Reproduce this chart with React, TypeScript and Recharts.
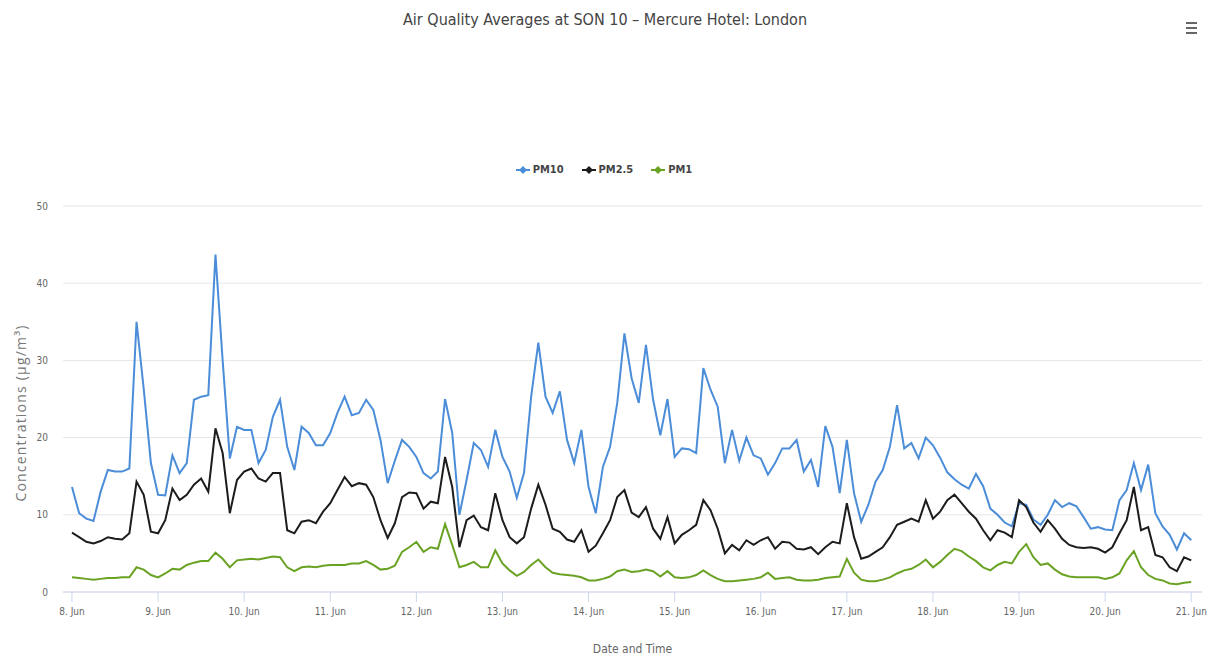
import React from "react";
import { LineChart, Line, XAxis, YAxis, CartesianGrid } from "recharts";

// readings every 2 hours from 8 Jun 00:00 to 21 Jun 00:00
const STEP_HOURS = 2;

const dayTicks = [0, 24, 48, 72, 96, 120, 144, 168, 192, 216, 240, 264, 288, 312];
const dayLabels = [
  "8. Jun", "9. Jun", "10. Jun", "11. Jun", "12. Jun", "13. Jun", "14. Jun",
  "15. Jun", "16. Jun", "17. Jun", "18. Jun", "19. Jun", "20. Jun", "21. Jun"
];
const yTicks = [0, 10, 20, 30, 40, 50];

const pm10 = [
  13.6, 10.2, 9.5, 9.2, 13.0, 15.8, 15.6, 15.6, 16.0, 35.0, 26.3, 16.7, 12.6, 12.5, 17.7, 15.4, 16.7, 24.9, 25.3, 25.5,
  43.7, 30.0, 17.3, 21.4, 21.0, 21.0, 16.7, 18.4, 22.7, 24.9, 18.8, 15.8, 21.4, 20.6, 19.0, 19.0, 20.6, 23.2, 25.3,
  22.9, 23.2, 24.9, 23.6, 19.7, 14.1, 17.0, 19.7, 18.8, 17.5, 15.4, 14.7, 15.6, 25.0, 20.6, 10.0, 14.5, 19.3, 18.4, 16.2,
  21.0, 17.5, 15.6, 12.2, 15.4, 25.3, 32.3, 25.3, 23.2, 26.0, 19.7, 16.7, 21.0, 13.6, 10.2, 16.2, 18.8, 24.5, 33.5,
  27.7, 24.5, 32.0, 24.9, 20.3, 25.0, 17.5, 18.6, 18.5, 18.0, 29.0, 26.2, 24.0, 16.7, 21.0, 17.0, 20.0, 17.7, 17.3, 15.2,
  16.7, 18.6, 18.6, 19.7, 15.6, 17.1, 13.6, 21.5, 18.8, 12.8, 19.7, 12.8, 9.1, 11.3, 14.3, 15.8, 18.8, 24.2, 18.6,
  19.3, 17.3, 20.0, 19.0, 17.4, 15.5, 14.6, 13.9, 13.4, 15.3, 13.7, 10.8, 10.0, 9.0, 8.5, 11.5, 11.3, 9.4, 8.7, 10.0,
  11.9, 11.0, 11.5, 11.1, 9.7, 8.2, 8.4, 8.1, 8.0, 11.9, 13.2, 16.7, 13.2, 16.5, 10.2, 8.5, 7.4, 5.5, 7.6, 6.7
];

const pm25 = [
  7.7, 7.1, 6.5, 6.3, 6.6, 7.1, 6.9, 6.8, 7.6, 14.3, 12.6, 7.8, 7.6, 9.3, 13.4, 11.9, 12.6, 13.9, 14.7, 13.0,
  21.2, 18.0, 10.2, 14.5, 15.6, 16.0, 14.7, 14.3, 15.4, 15.4, 8.0, 7.6, 9.1, 9.3, 8.9, 10.4, 11.5, 13.2, 14.9,
  13.7, 14.1, 13.9, 12.3, 9.3, 7.0, 8.9, 12.3, 12.9, 12.8, 10.8, 11.7, 11.5, 17.5, 13.6, 5.8, 9.3, 9.9, 8.4, 8.0,
  12.8, 9.3, 7.1, 6.3, 7.1, 10.8, 13.9, 11.3, 8.2, 7.8, 6.8, 6.5, 8.0, 5.2, 6.0, 7.6, 9.3, 12.3, 13.2,
  10.3, 9.7, 11.0, 8.2, 6.9, 9.7, 6.3, 7.4, 8.0, 8.7, 11.9, 10.6, 8.2, 5.0, 6.1, 5.4, 6.7, 6.1, 6.7, 7.1,
  5.6, 6.5, 6.4, 5.6, 5.5, 5.8, 4.9, 5.8, 6.5, 6.3, 11.5, 7.1, 4.3, 4.6, 5.2, 5.8, 7.1, 8.7, 9.1,
  9.5, 9.1, 11.9, 9.5, 10.4, 11.9, 12.6, 11.5, 10.4, 9.5, 8.0, 6.7, 8.0, 7.7, 7.1, 11.9, 11.0, 9.0, 7.8, 9.3,
  8.2, 6.9, 6.1, 5.8, 5.7, 5.8, 5.6, 5.1, 5.8, 7.6, 9.3, 13.6, 8.0, 8.4, 4.8, 4.5, 3.2, 2.7, 4.5, 4.1
];

const pm1 = [
  1.9, 1.8, 1.7, 1.6, 1.7, 1.8, 1.8, 1.9, 1.9, 3.2, 2.9, 2.2, 1.9, 2.4, 3.0, 2.9, 3.5, 3.8, 4.0, 4.0,
  5.1, 4.3, 3.2, 4.1, 4.2, 4.3, 4.2, 4.4, 4.6, 4.5, 3.2, 2.7, 3.2, 3.3, 3.2, 3.4, 3.5, 3.5, 3.5,
  3.7, 3.7, 4.0, 3.5, 2.9, 3.0, 3.4, 5.2, 5.8, 6.5, 5.2, 5.8, 5.6, 8.8, 6.1, 3.2, 3.5, 3.9, 3.2, 3.2,
  5.4, 3.7, 2.8, 2.1, 2.6, 3.5, 4.2, 3.2, 2.5, 2.3, 2.2, 2.1, 1.9, 1.5, 1.5, 1.7, 2.0, 2.7, 2.9,
  2.6, 2.7, 2.9, 2.7, 2.0, 2.7, 1.9, 1.8, 1.9, 2.2, 2.8, 2.2, 1.7, 1.4, 1.4, 1.5, 1.6, 1.7, 1.9, 2.5,
  1.7, 1.8, 1.9, 1.6, 1.5, 1.5, 1.6, 1.8, 1.9, 2.0, 4.3, 2.5, 1.6, 1.4, 1.4, 1.6, 1.9, 2.4, 2.8,
  3.0, 3.5, 4.2, 3.2, 3.9, 4.8, 5.6, 5.3, 4.6, 4.0, 3.2, 2.8, 3.5, 3.9, 3.7, 5.2, 6.2, 4.5, 3.5, 3.7,
  2.9, 2.3, 2.0, 1.9, 1.9, 1.9, 1.9, 1.7, 1.9, 2.4, 4.1, 5.3, 3.2, 2.2, 1.7, 1.5, 1.1, 1.0, 1.2, 1.3
];

const series = [
  { key: "pm10", name: "PM10", color: "#4b8dd8" },
  { key: "pm25", name: "PM2.5", color: "#1c1c1c" },
  { key: "pm1", name: "PM1", color: "#6aa224" }
];

const rows = pm10.map((v, i) => ({
  t: i * STEP_HOURS,
  pm10: v,
  pm25: pm25[i],
  pm1: pm1[i]
}));

const FONT = "'Liberation Sans Narrow', 'DejaVu Sans Condensed', Roboto, 'Noto Sans', sans-serif";

const dayLabel = (v: number) => dayLabels[dayTicks.indexOf(v)] ?? "";

const YTitle = (props: any) => {
  const vb = props.viewBox || { x: 0, y: 0, width: 0, height: 0 };
  const cx = vb.x + 20;
  const cy = vb.y + vb.height / 2 + 14;
  return (
    <text
      x={cx}
      y={cy}
      transform={`rotate(-90 ${cx} ${cy})`}
      textAnchor="middle"
      dominantBaseline="central"
      fill="#777"
      fontSize={14}
      letterSpacing={1.2}
      fontFamily="'Open Sans', sans-serif"
    >
      Concentrations (µg/m³)
    </text>
  );
};

const XTitle = (props: any) => {
  const vb = props.viewBox || { x: 0, y: 0, width: 0, height: 0 };
  return (
    <text x={vb.x + vb.width / 2} y={vb.y + 61} textAnchor="middle" fill="#666" fontSize={12}>
      Date and Time
    </text>
  );
};

const LegendMarker = ({ color }: { color: string }) => (
  <svg width={14} height={10} style={{ marginRight: 3 }}>
    <line x1={0} y1={5} x2={14} y2={5} stroke={color} strokeWidth={2} />
    <path d="M7 1 L11 5 L7 9 L3 5 Z" fill={color} />
  </svg>
);

export default function App() {
  return (
    <div
      style={{
        position: "absolute",
        left: 0,
        top: 0,
        width: 1226,
        height: 655,
        background: "#fff",
        fontFamily: FONT,
        overflow: "hidden"
      }}
    >
      <div
        style={{
          position: "absolute",
          top: 10,
          left: 0,
          width: 1210,
          textAlign: "center",
          fontSize: 16,
          color: "#444"
        }}
      >
        Air Quality Averages at SON 10 – Mercure Hotel: London
      </div>

      <div style={{ position: "absolute", left: 1186, top: 22, width: 11 }}>
        {[0, 1, 2].map((i) => (
          <div key={i} style={{ height: 2, background: "#666", marginBottom: 3 }} />
        ))}
      </div>

      <div
        style={{
          position: "absolute",
          top: 163,
          left: 0,
          width: 1208,
          display: "flex",
          justifyContent: "center",
          alignItems: "center",
          fontSize: 11,
          fontWeight: 600,
          color: "#444"
        }}
      >
        {series.map((s) => (
          <div key={s.key} style={{ display: "flex", alignItems: "center", margin: "0 9px" }}>
            <LegendMarker color={s.color} />
            <span>{s.name}</span>
          </div>
        ))}
      </div>

      <div style={{ position: "absolute", left: 0, top: 0 }}>
        <LineChart width={1226} height={655} data={rows} margin={{ top: 206, right: 24, bottom: 0, left: 0 }}>
          <CartesianGrid vertical={false} stroke="#e6e6e6" />
          <XAxis
            dataKey="t"
            type="number"
            domain={[-2.5, 315]}
            ticks={dayTicks}
            tickFormatter={dayLabel}
            height={63}
            stroke="#ccd6eb"
            tickSize={10}
            tickMargin={6}
            tick={{ fill: "#666", fontSize: 10 }}
            label={<XTitle />}
          />
          <YAxis
            domain={[0, 50]}
            ticks={yTicks}
            width={63}
            axisLine={false}
            tickLine={false}
            tickSize={0}
            tickMargin={15}
            tick={{ fill: "#666", fontSize: 10 }}
            label={<YTitle />}
          />
          {series.map((s) => (
            <Line
              key={s.key}
              type="linear"
              dataKey={s.key}
              name={s.name}
              stroke={s.color}
              strokeWidth={2}
              dot={false}
              isAnimationActive={false}
            />
          ))}
        </LineChart>
      </div>
    </div>
  );
}
